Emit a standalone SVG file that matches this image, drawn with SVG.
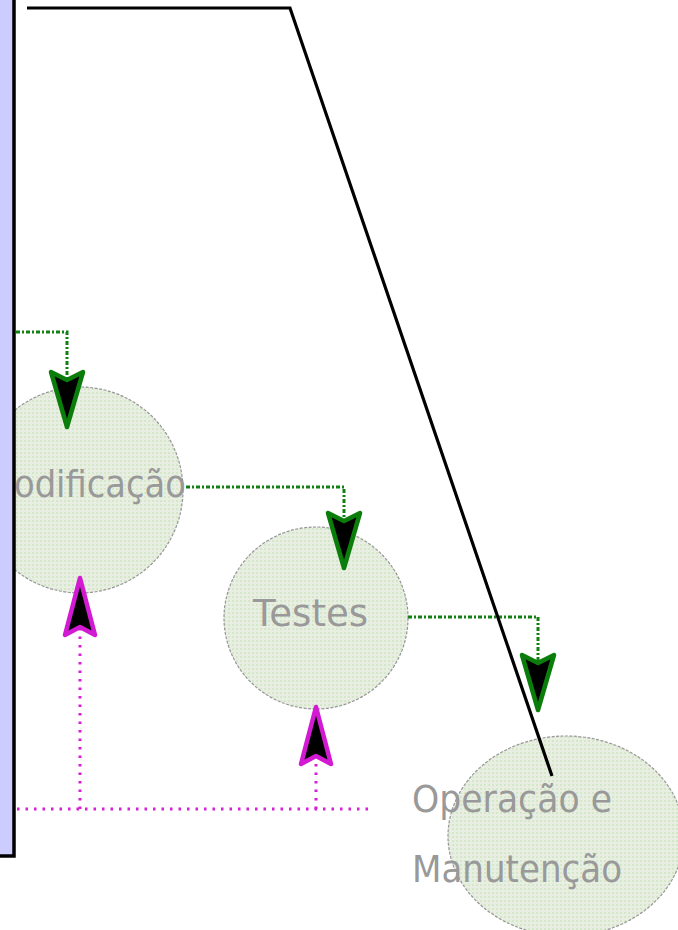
<svg xmlns="http://www.w3.org/2000/svg" width="678" height="930" viewBox="0 0 678 930">
  <style>
    .node-shape { fill: url(#mesh); stroke: #969696; stroke-width: 1.2; stroke-dasharray: 3 1.5; }
    .label { font-family: "DejaVu Sans", "Liberation Sans", sans-serif; font-size: 38px; fill: #999999; }
    .flow { fill: none; stroke: #128012; stroke-width: 3; stroke-dasharray: 4 2 2 2; }
    .feedback { fill: none; stroke: #d81ed8; stroke-width: 3; stroke-dasharray: 2.5 6; }
    .frame { fill: none; stroke: #000; stroke-width: 3.5; stroke-linejoin: miter; }
  </style>
  <defs>
    <pattern id="mesh" width="4" height="4" patternUnits="userSpaceOnUse">
      <rect width="4" height="4" fill="#e8eee1"/>
      <rect x="0" y="0" width="2" height="2" fill="#d5e7c9"/>
    </pattern>
    <marker id="head-green" markerUnits="userSpaceOnUse" orient="auto" overflow="visible" refX="0" refY="0" markerWidth="10" markerHeight="10">
      <path d="M-8,-16 L47,0 L-8,16 L0,0 Z" fill="#000" stroke="#0b7d0b" stroke-width="4.5" stroke-linejoin="round"/>
    </marker>
    <marker id="head-magenta" markerUnits="userSpaceOnUse" orient="auto" overflow="visible" refX="0" refY="0" markerWidth="10" markerHeight="10">
      <path d="M-8,-15 L49,0 L-8,15 L0,0 Z" fill="#000" stroke="#d21ad2" stroke-width="4.5" stroke-linejoin="round"/>
    </marker>
  </defs>

  <rect width="678" height="930" fill="#ffffff"/>

  <!-- process stages -->
  <g id="modificacao">
    <ellipse class="node-shape" cx="80" cy="490" rx="103" ry="103"/>
    <text class="label" x="14" y="497" textLength="172" lengthAdjust="spacingAndGlyphs">odificação</text>
  </g>
  <g id="testes">
    <ellipse class="node-shape" cx="316" cy="618" rx="92" ry="91"/>
    <text class="label" x="253" y="626" textLength="115" lengthAdjust="spacingAndGlyphs">Testes</text>
  </g>
  <g id="operacao">
    <ellipse class="node-shape" cx="566" cy="836" rx="118" ry="100"/>
    <text class="label" x="412" y="812" textLength="200" lengthAdjust="spacingAndGlyphs">Operação e</text>
    <text class="label" x="412" y="882" textLength="210" lengthAdjust="spacingAndGlyphs">Manutenção</text>
  </g>

  <!-- left panel edge -->
  <g id="panel">
    <rect x="-4" y="-4" width="18" height="860" fill="#ccccff"/>
    <path class="frame" d="M14,-4 L14,856 L-4,856"/>
  </g>

  <!-- connectors -->
  <g id="connectors">
    <path class="flow" d="M16,332 L67,332 L67,380" marker-end="url(#head-green)"/>
    <path class="flow" d="M186,487 L344,487 L344,521" marker-end="url(#head-green)"/>
    <path class="flow" d="M408,617 L538,617 L538,663" marker-end="url(#head-green)"/>

    <path class="feedback" d="M17,809 L372,809"/>
    <path class="feedback" d="M80,809 L80,627" marker-end="url(#head-magenta)"/>
    <path class="feedback" d="M316,809 L316,756" marker-end="url(#head-magenta)"/>

    <path d="M27,8 L290,8 L552,776" fill="none" stroke="#000" stroke-width="3.2" stroke-linejoin="miter"/>
  </g>
</svg>
